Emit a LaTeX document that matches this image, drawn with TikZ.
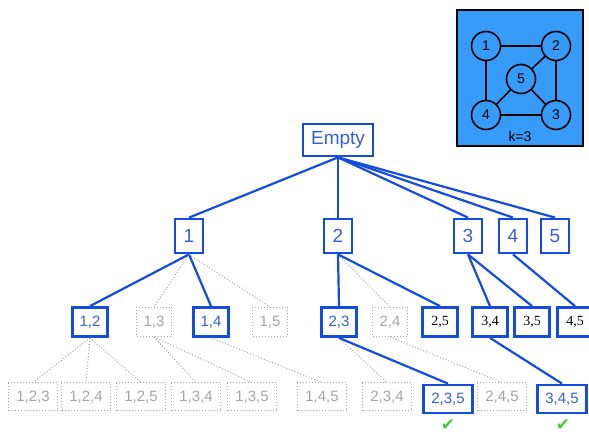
\documentclass[tikz,border=0pt]{standalone}
\usepackage{fontspec}
\setmainfont{Liberation Sans}
\newfontfamily\serifnum{Liberation Serif}
\newfontfamily\symfont{DejaVu Sans}

\definecolor{treeblue}{RGB}{20,75,225}
\definecolor{labelblue}{RGB}{55,95,215}
\definecolor{prunegray}{RGB}{165,165,165}
\definecolor{insetblue}{RGB}{55,155,250}
\definecolor{tickgreen}{RGB}{70,200,60}

\begin{document}
\begin{tikzpicture}
            [x=1pt, y=-1pt,
            rootbox/.style={inner sep=0pt, minimum width=70pt, minimum height=32pt, font=\fontsize{19}{19}\selectfont},
            singlebox/.style={inner sep=0pt, minimum width=28pt, minimum height=34pt, font=\fontsize{19}{19}\selectfont},
            pairbox/.style={inner sep=0pt, minimum width=35pt, minimum height=29pt, font=\fontsize{15}{15}\selectfont},
            triplebox/.style={inner sep=0pt, minimum width=49pt, minimum height=28pt, font=\fontsize{15}{15}\selectfont},
            live/.style={draw=treeblue, line width=2.8pt, text=labelblue},
            done/.style={draw=treeblue, line width=2.8pt, text=black, font=\serifnum\fontsize{14}{14}\selectfont},
            pruned/.style={draw=prunegray, dotted, line width=1pt, text=prunegray},
            bluelink/.style={draw=treeblue, line width=2.2pt},
            greylink/.style={draw=prunegray, dotted, line width=1pt},
            vertex/.style={circle, draw=black, fill=insetblue, line width=1.6pt, minimum size=29pt, inner sep=0pt, font=\fontsize{14}{14}\selectfont},
            tick/.style={text=tickgreen, inner sep=0pt, font=\symfont\fontsize{17}{17}\selectfont}]

            \useasboundingbox (0,0) rectangle (589,435);

            % small graph with k=3
            \draw[fill=insetblue, draw=black, line width=2.6pt] (457,10) rectangle (583,146);
            \node[vertex] (v1) at (486,46) {1};
            \node[vertex] (v2) at (556,46) {2};
            \node[vertex] (v3) at (556,115) {3};
            \node[vertex] (v4) at (486,115) {4};
            \node[vertex] (v5) at (521,79) {5};
            \node[font=\fontsize{14}{14}\selectfont] (klabel) at (520,136) {k=3};

            \draw[line width=1.6pt] (v1) -- (v2);
            \draw[line width=1.6pt] (v1) -- (v4);
            \draw[line width=1.6pt] (v2) -- (v3);
            \draw[line width=1.6pt] (v4) -- (v3);
            \draw[line width=1.6pt] (v5) -- (v2);
            \draw[line width=1.6pt] (v5) -- (v3);
            \draw[line width=1.6pt] (v5) -- (v4);

            % search tree
            \node[rootbox, live] (root) at (338,140) {Empty};

            \node[singlebox, live] (n1) at (189,236) {1};
            \node[singlebox, live] (n2) at (338,236) {2};
            \node[singlebox, live] (n3) at (468,236) {3};
            \node[singlebox, live] (n4) at (513,236) {4};
            \node[singlebox, live] (n5) at (555,236) {5};

            \node[pairbox, live] (n12) at (90,322) {1,2};
            \node[pairbox, pruned] (n13) at (154,322) {1,3};
            \node[pairbox, live] (n14) at (211,322) {1,4};
            \node[pairbox, pruned] (n15) at (270,322) {1,5};
            \node[pairbox, live] (n23) at (339,322) {2,3};
            \node[pairbox, pruned] (n24) at (390,322) {2,4};
            \node[pairbox, done] (n25) at (440,322) {2,5};
            \node[pairbox, done] (n34) at (490,322) {3,4};
            \node[pairbox, done] (n35) at (532,322) {3,5};
            \node[pairbox, done] (n45) at (575,322) {4,5};

            \node[triplebox, pruned] (n123) at (33,397) {1,2,3};
            \node[triplebox, pruned] (n124) at (86,397) {1,2,4};
            \node[triplebox, pruned] (n125) at (141,397) {1,2,5};
            \node[triplebox, pruned] (n134) at (196,397) {1,3,4};
            \node[triplebox, pruned] (n135) at (252,397) {1,3,5};
            \node[triplebox, pruned] (n145) at (322,397) {1,4,5};
            \node[triplebox, pruned] (n234) at (387,397) {2,3,4};
            \node[triplebox, live] (n235) at (448,399) {2,3,5};
            \node[triplebox, pruned] (n245) at (502,397) {2,4,5};
            \node[triplebox, live] (n345) at (562,399) {3,4,5};

            \node[tick] (ok235) at (448,425) {✔};
            \node[tick] (ok345) at (563,425) {✔};

            \draw[bluelink] (root.south) -- (n1.north);
            \draw[bluelink] (root.south) -- (n2.north);
            \draw[bluelink] (root.south) -- (n3.north);
            \draw[bluelink] (root.south) -- (n4.north);
            \draw[bluelink] (root.south) -- (n5.north);

            \draw[bluelink] (n1.south) -- (n12.north);
            \draw[greylink] (n1.south) -- (n13.north);
            \draw[bluelink] (n1.south) -- (n14.north);
            \draw[greylink] (n1.south) -- (n15.north);
            \draw[bluelink] (n2.south) -- (n23.north);
            \draw[greylink] (n2.south) -- (n24.north);
            \draw[bluelink] (n2.south) -- (n25.north);
            \draw[bluelink] (n3.south) -- (n34.north);
            \draw[bluelink] (n3.south) -- (n35.north);
            \draw[bluelink] (n4.south) -- (n45.north);

            \draw[greylink] (n12.south) -- (n123.north);
            \draw[greylink] (n12.south) -- (n124.north);
            \draw[greylink] (n12.south) -- (n125.north);
            \draw[greylink] (n13.south) -- (n134.north);
            \draw[greylink] (n13.south) -- (n135.north);
            \draw[greylink] (n14.south) -- (n145.north);
            \draw[greylink] (n23.south) -- (n234.north);
            \draw[bluelink] (n23.south) -- (n235.north);
            \draw[greylink] (n24.south) -- (n245.north);
            \draw[bluelink] (n34.south) -- (n345.north);

        \end{tikzpicture}
\end{document}
